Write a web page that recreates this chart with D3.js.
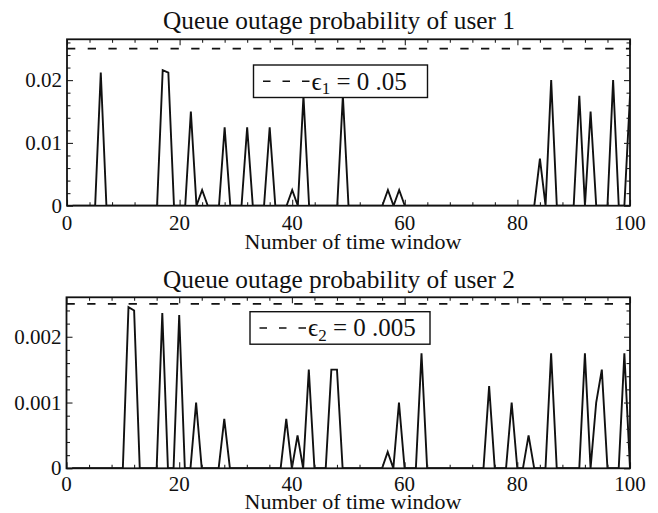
<!DOCTYPE html>
<html>
<head>
<meta charset="utf-8">
<script src="https://cdn.jsdelivr.net/npm/d3@7"></script>
<style>
  html, body { margin: 0; padding: 0; background: #fff; }
  svg { display: block; }
  text { font-family: "Liberation Serif", "DejaVu Serif", serif; fill: #111; }
</style>
</head>
<body>
<svg id="chart" width="658" height="513"></svg>
<script>
// ---- data ----
const windows = d3.range(1, 101);            // time window index 1..100
const user1 = [
  0,0,0,0,0,0.0212,0,0,0,0,
  0,0,0,0,0,0,0.0216,0.0212,0,0,
  0,0.015,0,0.0025,0,0,0,0.0125,0,0,
  0,0.0125,0,0,0,0.0125,0,0,0,0.0025,
  0,0.0175,0,0,0,0,0,0,0.0175,0,
  0,0,0,0,0,0,0.0025,0,0.0025,0,
  0,0,0,0,0,0,0,0,0,0,
  0,0,0,0,0,0,0,0,0,0,
  0,0,0,0.0075,0,0.02,0,0,0,0,
  0.0175,0,0.015,0,0,0,0.02,0,0,0.0175
];
const user2 = [
  0,0,0,0,0,0,0,0,0,0,
  0.00245,0.0024,0,0,0,0,0.00236,0,0,0.00233,
  0,0,0.001,0,0,0,0,0.00075,0,0,
  0,0,0,0,0,0,0,0,0.00075,0,
  0.0005,0,0.0015,0,0,0,0.0015,0.0015,0,0,
  0,0,0,0,0,0,0.00025,0,0.001,0,
  0,0,0.00175,0,0,0,0,0,0,0,
  0,0,0,0,0.00125,0,0,0,0.001,0,
  0,0.0005,0,0,0,0.00175,0,0,0,0,
  0,0.00175,0,0.001,0.0015,0,0,0,0.00175,0
];
const titles = ["Queue outage probability of user 1", "Queue outage probability of user 2"];
const xLabel = "Number of time window";
const thresholds = [0.025, 0.0025];
const legendSub = ["1", "2"];
const legendValue = [" = 0 .05", " = 0 .005"];
const xTicks = [0, 20, 40, 60, 80, 100];
const xMinor = [4, 8, 12, 16, 24, 28, 32, 36, 44, 48, 52, 56, 64, 68, 72, 76, 84, 88, 92, 96];
const yTicks1 = [0, 0.01, 0.02];
const yTickLabels1 = ["0", "0.01", "0.02"];
const yMinor1 = [0.002, 0.004, 0.006, 0.008, 0.012, 0.014, 0.016, 0.018, 0.022, 0.024, 0.026];
const yTicks2 = [0, 0.001, 0.002];
const yTickLabels2 = ["0", "0.001", "0.002"];
const yMinor2 = [0.0002, 0.0004, 0.0006, 0.0008, 0.0012, 0.0014, 0.0016, 0.0018, 0.0022, 0.0024];

const svg = d3.select("#chart");

const panels = [
  { values: user1, yMax: 0.0265, top: 39.3, bottom: 205.7, left: 67, right: 630,
    yTicks: yTicks1, yLabels: yTickLabels1, yMinor: yMinor1,
    titleY: 28.5, tickY: 230, xLabelY: 248.5,
    legend: { x: 253.5, y: 65, w: 174, h: 32.5 } },
  { values: user2, yMax: 0.0026, top: 297.3, bottom: 468.3, left: 66.5, right: 630,
    yTicks: yTicks2, yLabels: yTickLabels2, yMinor: yMinor2,
    titleY: 287.5, tickY: 491, xLabelY: 509,
    legend: { x: 250, y: 311.7, w: 180, h: 32.5 } }
];

panels.forEach((p, i) => {
  const x = d3.scaleLinear().domain([0, 100]).range([p.left, p.right]);
  const y = d3.scaleLinear().domain([0, p.yMax]).range([p.bottom, p.top]);
  const g = svg.append("g");

  const clipId = "clip" + i;
  svg.append("clipPath").attr("id", clipId).append("rect")
    .attr("x", p.left).attr("y", p.top).attr("width", p.right - p.left).attr("height", p.bottom - p.top);

  // threshold dashed line
  g.append("line")
    .attr("x1", x(0)).attr("x2", x(100))
    .attr("y1", y(thresholds[i])).attr("y2", y(thresholds[i]))
    .attr("stroke", "#111").attr("stroke-width", 1.7)
    .attr("stroke-dasharray", "8.3,12.4");

  // data line
  const line = d3.line().x((d, k) => x(windows[k])).y(d => y(d));
  g.append("path").datum(p.values)
    .attr("clip-path", `url(#${clipId})`)
    .attr("d", line)
    .attr("fill", "none").attr("stroke", "#111").attr("stroke-width", 1.9);

  // axes (ticks inward on all four sides)
  const major = 6, minor = 3.5;
  const axB = d3.axisBottom(x).tickValues(xTicks).tickSize(-major).tickFormat("");
  const axT = d3.axisTop(x).tickValues(xTicks).tickSize(-major).tickFormat("");
  const axBm = d3.axisBottom(x).tickValues(xMinor).tickSize(-minor).tickFormat("");
  const axTm = d3.axisTop(x).tickValues(xMinor).tickSize(-minor).tickFormat("");
  const axL = d3.axisLeft(y).tickValues(p.yTicks).tickSize(-major).tickFormat("");
  const axR = d3.axisRight(y).tickValues(p.yTicks).tickSize(-major).tickFormat("");
  const axLm = d3.axisLeft(y).tickValues(p.yMinor).tickSize(-minor).tickFormat("");
  const axRm = d3.axisRight(y).tickValues(p.yMinor).tickSize(-minor).tickFormat("");
  [[axB, `translate(0,${p.bottom})`], [axBm, `translate(0,${p.bottom})`],
   [axT, `translate(0,${p.top})`], [axTm, `translate(0,${p.top})`],
   [axL, `translate(${p.left},0)`], [axLm, `translate(${p.left},0)`],
   [axR, `translate(${p.right},0)`], [axRm, `translate(${p.right},0)`]].forEach(([ax, tr]) => {
    const a = g.append("g").attr("transform", tr).call(ax);
    a.select(".domain").remove();
    a.selectAll(".tick line").attr("stroke", "#222").attr("stroke-width", 1.1);
  });

  // frame
  g.append("rect")
    .attr("x", p.left).attr("y", p.top)
    .attr("width", p.right - p.left).attr("height", p.bottom - p.top)
    .attr("fill", "none").attr("stroke", "#111").attr("stroke-width", 1.8);

  // tick labels
  g.selectAll(".xl").data(xTicks).enter().append("text")
    .attr("x", d => x(d)).attr("y", p.tickY)
    .attr("text-anchor", "middle").attr("font-size", 21)
    .text(d => d);
  g.selectAll(".yl").data(p.yTicks).enter().append("text")
    .attr("x", p.left - 5).attr("y", d => y(d) + 7)
    .attr("text-anchor", "end").attr("font-size", 21)
    .text((d, k) => p.yLabels[k]);

  // title and x label
  g.append("text").attr("x", 339).attr("y", p.titleY)
    .attr("text-anchor", "middle").attr("font-size", 25.3).text(titles[i]);
  g.append("text").attr("x", 353).attr("y", p.xLabelY)
    .attr("text-anchor", "middle").attr("font-size", 22).text(xLabel);

  // legend
  const L = p.legend;
  g.append("rect").attr("x", L.x).attr("y", L.y).attr("width", L.w).attr("height", L.h)
    .attr("fill", "#fff").attr("stroke", "#111").attr("stroke-width", 1.4);
  const ly = L.y + L.h / 2;
  g.append("line").attr("x1", L.x + 9.5).attr("x2", L.x + 57)
    .attr("y1", ly).attr("y2", ly)
    .attr("stroke", "#111").attr("stroke-width", 1.5).attr("stroke-dasharray", "7.5,12");
  const t = g.append("text").attr("x", L.x + 58).attr("y", ly + 8.5).attr("font-size", 25);
  t.append("tspan").text("\u03F5");
  t.append("tspan").attr("font-size", 17).attr("dy", 4.5).text(legendSub[i]);
  t.append("tspan").attr("dy", -4.5).text(legendValue[i]);
});
</script>
</body>
</html>
